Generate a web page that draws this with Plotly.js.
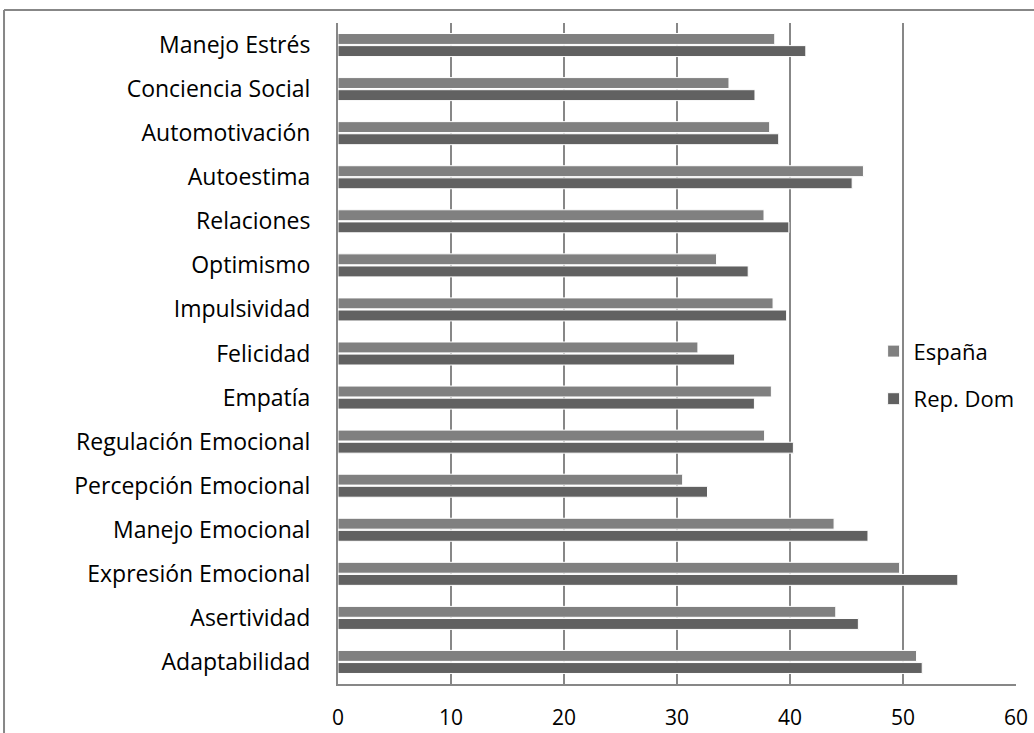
<!DOCTYPE html>
<html>
<head>
<meta charset="utf-8">
<script src="https://cdn.plot.ly/plotly-3.0.1.min.js"></script>
<style>html,body{margin:0;padding:0;background:#fff;}#chart{width:1034px;height:733px;}</style>
</head>
<body>
<div id="chart"></div>
<script>
const categories = ["Manejo Estrés","Conciencia Social","Automotivación","Autoestima","Relaciones","Optimismo","Impulsividad","Felicidad","Empatía","Regulación Emocional","Percepción Emocional","Manejo Emocional","Expresión Emocional","Asertividad","Adaptabilidad"];
const espana = [38.65,34.6,38.2,46.5,37.7,33.5,38.5,31.85,38.35,37.75,30.5,43.9,49.7,44.05,51.2];
const repDom = [41.4,36.9,39.0,45.5,39.9,36.3,39.7,35.1,36.85,40.3,32.7,46.9,54.85,46.05,51.7];
const seriesNames = ["España","Rep. Dom"];
const xTicks = [0,10,20,30,40,50,60];

const gridColor = "#878787";
const fontFam = "'Open Sans', 'Noto Sans', sans-serif";

const traces = [
  {type:"bar", orientation:"h", name:seriesNames[0], y:categories, x:espana,
   marker:{color:"#808080", line:{color:"#ffffff", width:1}}, legendgroup:"a"},
  {type:"bar", orientation:"h", name:seriesNames[1], y:categories, x:repDom,
   marker:{color:"#616161", line:{color:"#ffffff", width:1}}, legendgroup:"b"}
];

const layout = {
  width:1034, height:733,
  margin:{l:338, r:18, t:23, b:49},
  paper_bgcolor:"#ffffff", plot_bgcolor:"#ffffff",
  barmode:"group", bargap:0.45, bargroupgap:0.1,
  font:{family:fontFam, size:20, color:"#000000"},
  showlegend:true,
  legend:{x:0.79, xanchor:"left", y:0.467, yanchor:"middle", bgcolor:"rgba(0,0,0,0)",
          font:{family:fontFam, size:22, color:"#000"}, traceorder:"grouped", tracegroupgap:16},
  xaxis:{range:[0,60], tickvals:xTicks, ticktext:xTicks.map(String), showgrid:true, gridcolor:gridColor, gridwidth:2,
         zeroline:false, showline:true, linecolor:gridColor, linewidth:2, ticks:"", ticklabelstandoff:14,
         tickfont:{family:fontFam, size:21}, fixedrange:true},
  yaxis:{type:"category", autorange:"reversed", showgrid:false, zeroline:false, showline:true,
         linecolor:gridColor, linewidth:2, ticks:"", ticklabelstandoff:21,
         tickfont:{family:fontFam, size:23}},
  shapes:[
    {type:"line", xref:"paper", yref:"paper", x0:-0.4926, x1:-0.4926, y0:-0.2, y1:1.0197, line:{color:gridColor, width:2}},
    {type:"line", xref:"paper", yref:"paper", x0:-0.4926, x1:1.1, y0:1.0197, y1:1.0197, line:{color:gridColor, width:2}}
  ]
};

Plotly.newPlot("chart", traces, layout, {displayModeBar:false, staticPlot:true});
</script>
</body>
</html>
